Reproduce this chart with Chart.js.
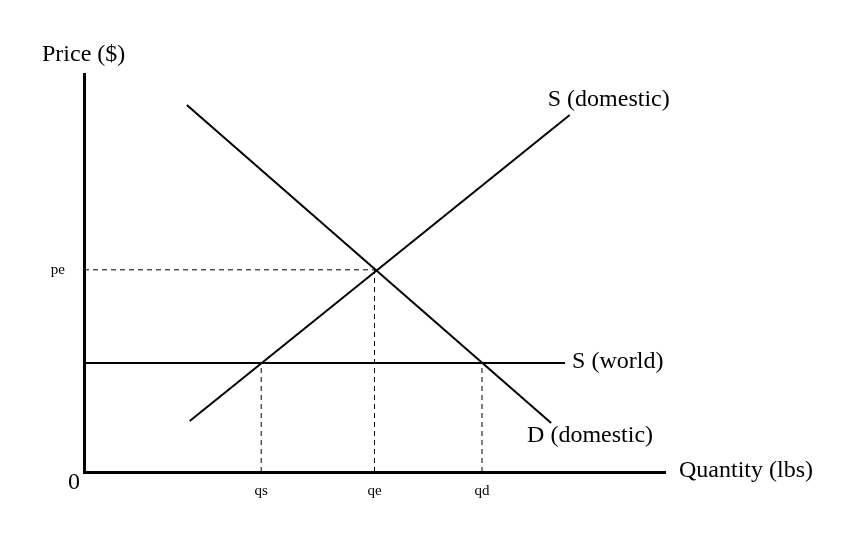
<!DOCTYPE html>
<html>
<head>
<meta charset="utf-8">
<script src="https://cdn.jsdelivr.net/npm/chart.js@4.4.1/dist/chart.umd.min.js"></script>
<style>
body{margin:0;background:#fff;}
#wrap{width:851px;height:557px;}
</style>
</head>
<body>
<div id="wrap"><canvas id="c"></canvas></div>
<script>
// values (axis runs 0..10 both ways)
const demandX=[1.77,8.04], demandY=[9.22,1.23];
const supplyX=[1.82,8.36], supplyY=[1.28,8.97];
const worldX=[0,8.28], worldY=[2.74,2.74];
const qTicks=[3.05,5.0,6.85], qLabels=["qs","qe","qd"];
const pTicks=[5.08], pLabels=["pe"];
const worldP=2.74;

const FONT='"Liberation Serif","Times New Roman",serif';

function pts(xs,ys){ return xs.map((x,i)=>({x:x,y:ys[i]})); }

function solid(xs,ys){
  return {data:pts(xs,ys),showLine:true,borderColor:"#000",borderWidth:2,pointRadius:0,borderCapStyle:"butt"};
}
function dashed(xs,ys){
  return {data:pts(xs,ys),showLine:true,borderColor:"#000",borderWidth:1,pointRadius:0,borderDash:[5,4]};
}

/* text on the chart */
const labels={
  id:"labels",
  afterDraw(ch){
    let c=ch.ctx,x=ch.scales.x,y=ch.scales.y;
    c.save();
    c.fillStyle="#000";
    c.textBaseline="middle";
    c.textAlign="left";
    c.font="24px "+FONT;
    c.fillText("Price ($)",42,55);
    c.fillText("Quantity (lbs)",x.right+14,y.bottom-1);
    c.fillText("S (domestic)",x.getPixelForValue(supplyX[1])-22,y.getPixelForValue(supplyY[1])-15);
    c.fillText("S (world)",x.getPixelForValue(worldX[1])+7,y.getPixelForValue(worldY[1])-1);
    c.fillText("D (domestic)",x.getPixelForValue(demandX[1])-24,y.getPixelForValue(demandY[1])+13);
    c.textAlign="center";
    c.fillText("0",x.left-10,y.bottom+11);
    c.restore();
  }
};

new Chart(document.getElementById("c"),{
  type:"scatter",
  data:{datasets:[
    solid(demandX,demandY),
    solid(supplyX,supplyY),
    solid(worldX,worldY),
    dashed([0,qTicks[1]],[pTicks[0],pTicks[0]]),
    dashed([qTicks[0],qTicks[0]],[0,worldP]),
    dashed([qTicks[1],qTicks[1]],[0,pTicks[0]]),
    dashed([qTicks[2],qTicks[2]],[0,worldP])
  ]},
  options:{
    responsive:true,maintainAspectRatio:false,animation:false,
    layout:{padding:{left:0,top:74,right:186,bottom:0}},
    plugins:{legend:{display:false},tooltip:{enabled:false}},
    scales:{
      x:{
        type:"linear",min:0,max:10,
        grid:{display:false,drawTicks:false},
        border:{display:true,color:"#000",width:3},
        afterBuildTicks:s=>{s.ticks=qTicks.map(v=>({value:v}));},
        afterFit:s=>{s.height=85;},
        ticks:{padding:10,color:"#000",font:{family:FONT,size:15},
          callback:(v,i)=>qLabels[i]}
      },
      y:{
        type:"linear",min:0,max:10,
        grid:{display:false,drawTicks:false},
        border:{display:true,color:"#000",width:3},
        afterBuildTicks:s=>{s.ticks=pTicks.map(v=>({value:v}));},
        afterFit:s=>{s.width=84;},
        ticks:{padding:19,color:"#000",font:{family:FONT,size:15},
          callback:(v,i)=>pLabels[i]}
      }
    }
  },
  plugins:[labels]
});
</script>
</body>
</html>
